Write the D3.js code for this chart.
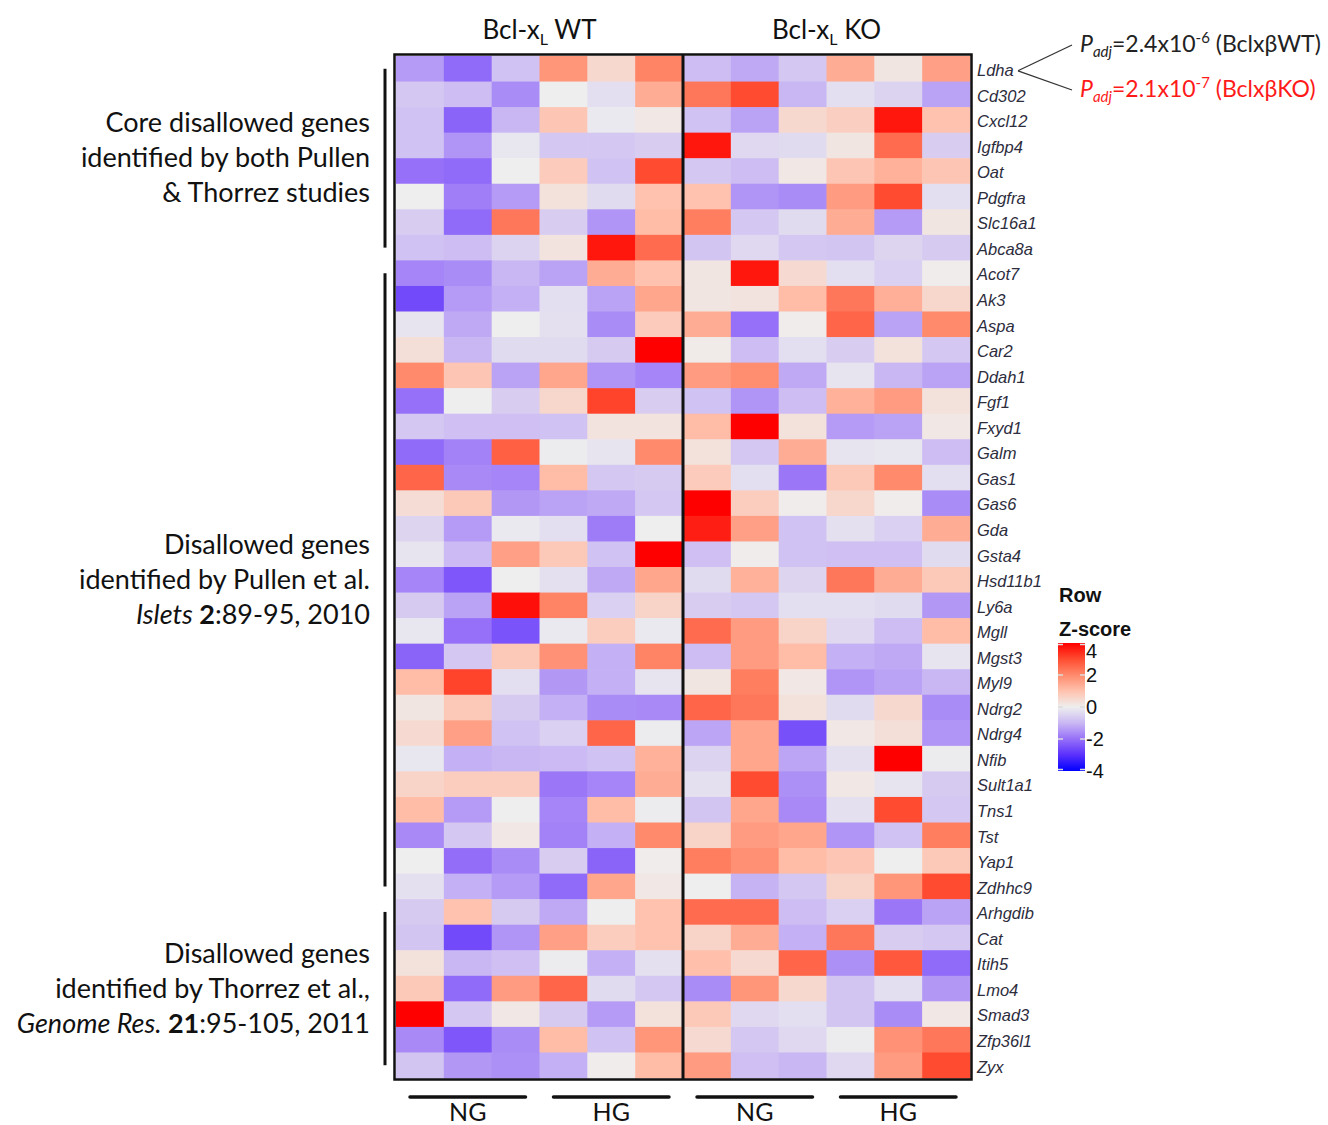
<!DOCTYPE html>
<html>
<head>
<meta charset="utf-8">
<script src="https://cdn.jsdelivr.net/npm/d3@7"></script>
<style>
  body { margin: 0; background: #fff; }
</style>
</head>
<body>
<div id="chart"></div>
<script>
// genes, top to bottom
const genes = ['Ldha', 'Cd302', 'Cxcl12', 'Igfbp4', 'Oat', 'Pdgfra', 'Slc16a1', 'Abca8a',
  'Acot7', 'Ak3', 'Aspa', 'Car2', 'Ddah1', 'Fgf1', 'Fxyd1', 'Galm', 'Gas1', 'Gas6', 'Gda',
  'Gsta4', 'Hsd11b1', 'Ly6a', 'Mgll', 'Mgst3', 'Myl9', 'Ndrg2', 'Ndrg4', 'Nfib', 'Sult1a1',
  'Tns1', 'Tst', 'Yap1', 'Zdhhc9', 'Arhgdib', 'Cat', 'Itih5', 'Lmo4', 'Smad3', 'Zfp36l1', 'Zyx'];

const samples = ['WT_NG1', 'WT_NG2', 'WT_NG3', 'WT_HG1', 'WT_HG2', 'WT_HG3',
  'KO_NG1', 'KO_NG2', 'KO_NG3', 'KO_HG1', 'KO_HG2', 'KO_HG3'];

// row z-scores, Bcl-xL WT columns (NG x3, HG x3)
const zWT = [
  [-1.4, -2.1, -0.8, 1.8, 0.5, 2.1],
  [-0.7, -0.9, -1.6, 0, -0.3, 1.4],
  [-0.8, -2.2, -1.0, 0.9, -0.1, 0.15],
  [-0.8, -1.5, -0.15, -0.7, -0.7, -0.6],
  [-2.0, -2.1, 0, 0.8, -0.8, 3.0],
  [0, -1.8, -1.4, 0.3, -0.35, 1.0],
  [-0.6, -2.1, 2.3, -0.6, -1.5, 1.1],
  [-0.8, -0.9, -0.5, 0.25, 3.7, 2.5],
  [-1.7, -1.6, -1.0, -1.3, 1.4, 1.0],
  [-2.6, -1.4, -1.1, -0.3, -1.3, 1.5],
  [-0.2, -1.2, 0, -0.25, -1.6, 0.8],
  [0.35, -1.0, -0.35, -0.35, -0.65, 4.0],
  [2.0, 0.9, -1.3, 1.5, -1.5, -1.7],
  [-2.0, 0, -0.6, 0.55, 3.1, -0.6],
  [-0.7, -0.85, -0.85, -0.8, 0.25, 0.25],
  [-2.1, -1.75, 2.7, -0.05, -0.2, 2.0],
  [2.6, -1.65, -1.7, 1.1, -0.7, -0.65],
  [0.4, 0.85, -1.45, -1.3, -1.2, -0.7],
  [-0.45, -1.4, -0.1, -0.3, -1.85, 0],
  [-0.2, -0.95, 1.6, 0.85, -0.8, 4.0],
  [-1.7, -2.4, 0, -0.25, -1.2, 1.5],
  [-0.65, -1.3, 3.8, 2.1, -0.55, 0.6],
  [-0.15, -2.0, -2.45, -0.1, 0.75, -0.1],
  [-2.2, -0.7, 0.85, 1.85, -1.1, 2.1],
  [1.1, 3.1, -0.3, -1.45, -1.1, -0.2],
  [0.2, 0.85, -0.65, -1.1, -1.6, -1.65],
  [0.45, 1.6, -0.8, -0.55, 2.6, -0.05],
  [-0.15, -1.1, -1.0, -0.95, -0.8, 1.3],
  [0.6, 0.75, 0.75, -1.9, -1.7, 1.4],
  [1.1, -1.4, 0, -1.7, 1.1, -0.05],
  [-1.65, -0.7, 0.15, -1.75, -1.1, 2.0],
  [0, -2.05, -1.6, -0.6, -2.2, 0.05],
  [-0.25, -1.1, -1.4, -2.1, 1.5, 0.15],
  [-0.65, 1.0, -0.65, -1.2, 0, 1.0],
  [-0.75, -2.6, -1.5, 1.6, 0.75, 1.0],
  [0.3, -1.0, -0.85, -0.05, -1.1, -0.25],
  [0.85, -2.1, 1.7, 2.6, -0.35, -0.7],
  [4.0, -0.7, 0.15, -0.65, -1.4, 0.3],
  [-1.65, -2.4, -1.6, 1.1, -0.8, 1.8],
  [-0.75, -1.45, -1.55, -1.1, 0.05, 1.1]
];

// row z-scores, Bcl-xL KO columns (NG x3, HG x3)
const zKO = [
  [-0.9, -1.2, -0.7, 1.4, 0.2, 1.6],
  [2.3, 3.0, -1.0, -0.3, -0.5, -1.3],
  [-0.8, -1.3, 0.5, 0.7, 3.7, 1.0],
  [3.7, -0.4, -0.35, 0.2, 2.5, -0.6],
  [-0.7, -0.9, 0.15, 0.9, 1.3, 0.9],
  [1.0, -1.5, -1.6, 1.7, 3.0, -0.3],
  [2.2, -0.7, -0.35, 1.4, -1.4, 0.2],
  [-0.75, -0.4, -0.7, -0.75, -0.45, -0.65],
  [0.2, 3.7, 0.45, -0.3, -0.55, 0.05],
  [0.2, 0.25, 1.1, 2.3, 1.35, 0.55],
  [1.4, -2.0, 0.05, 2.6, -1.3, 2.0],
  [0.1, -0.9, -0.3, -0.6, 0.3, -0.7],
  [1.7, 1.95, -1.2, -0.2, -1.0, -1.3],
  [-0.8, -1.5, -0.9, 1.3, 1.7, 0.3],
  [1.1, 4.0, 0.3, -1.4, -1.3, 0.15],
  [0.3, -0.7, 1.4, -0.2, -0.15, -0.9],
  [0.8, -0.3, -1.9, 0.85, 2.0, -0.3],
  [4.0, 0.75, 0.05, 0.55, 0.05, -1.6],
  [3.6, 1.6, -0.8, -0.25, -0.55, 1.4],
  [-0.85, 0.05, -0.8, -0.85, -0.85, -0.35],
  [-0.35, 1.3, -0.45, 2.3, 1.4, 0.85],
  [-0.6, -0.7, -0.3, -0.3, -0.35, -1.45],
  [2.5, 1.7, 0.6, -0.4, -0.9, 1.1],
  [-0.9, 1.7, 1.1, -1.1, -1.2, -0.2],
  [0.2, 2.2, 0.15, -1.5, -1.3, -1.0],
  [2.6, 2.3, 0.3, -0.35, 0.5, -1.6],
  [-1.25, 1.5, -2.5, 0.15, 0.35, -1.5],
  [-0.5, 1.5, -1.25, -0.25, 4.0, -0.05],
  [-0.25, 3.0, -1.55, 0.15, -0.2, -0.65],
  [-0.75, 1.5, -1.65, -0.25, 3.0, -0.7],
  [0.6, 1.7, 1.5, -1.5, -0.8, 2.2],
  [2.2, 1.9, 1.1, 0.9, 0, 0.85],
  [0, -1.05, -0.7, 0.6, 1.8, 3.0],
  [2.5, 2.5, -0.9, -0.55, -1.9, -1.3],
  [0.6, 1.4, -1.1, 2.3, -0.6, -0.7],
  [1.05, 0.45, 2.6, -1.55, 2.8, -2.1],
  [-1.6, 1.8, 0.5, -0.75, -0.3, -1.45],
  [0.85, -0.4, -0.3, -0.75, -1.6, 0.15],
  [0.45, -0.7, -0.4, -0.05, 1.85, 2.3],
  [1.7, -0.85, -1.0, -0.4, 1.7, 3.0]
];

const genotypes = ['WT', 'KO'];
const conditions = ['NG', 'HG', 'NG', 'HG'];
const legendTicks = [4, 2, 0, -2, -4];

// left brackets: first gene, last gene, text lines (segments: [text, style])
const geneGroups = [
  { first: 'Ldha', last: 'Abca8a', lines: [
    [['Core disallowed genes', '']],
    [['identified by both Pullen', '']],
    [['& Thorrez studies', '']] ] },
  { first: 'Acot7', last: 'Zdhhc9', lines: [
    [['Disallowed genes', '']],
    [['identified by Pullen et al.', '']],
    [['Islets ', 'i'], ['2', 'b'], [':89-95, 2010', '']] ] },
  { first: 'Arhgdib', last: 'Zyx', lines: [
    [['Disallowed genes', '']],
    [['identified by Thorrez et al.,', '']],
    [['Genome Res. ', 'i'], ['21', 'b'], [':95-105, 2011', '']] ] }
];

const pvalues = [
  { gene: 'Ldha', mant: '2.4', exp: '-6', label: 'BclxβWT', color: '#222' },
  { gene: 'Ldha', mant: '2.1', exp: '-7', label: 'BclxβKO', color: '#ff1a1a' }
];

const width = 1328, height = 1125;
const labelFont = 'Lato, "Open Sans", sans-serif';

const svg = d3.select('#chart').append('svg')
  .attr('width', width)
  .attr('height', height)
  .style('font-family', labelFont);

const x = d3.scaleBand().domain(samples).range([396, 970]);
const y = d3.scaleBand().domain(genes).range([56, 1078]);
const color = d3.scaleLinear()
  .domain([-4, -3, -2, -1, 0, 1, 2, 3, 4])
  .range(['#0000ff', '#5a30fc', '#9670f8', '#c9b7f3', '#eeeeee', '#ffc2ae', '#ff8a6c', '#ff4c30', '#ff0000'])
  .clamp(true);

const cells = genes.flatMap((g, i) => samples.map((s, j) => ({
  gene: g, sample: s, z: j < 6 ? zWT[i][j] : zKO[i][j - 6]
})));

svg.append('g').selectAll('rect')
  .data(cells)
  .join('rect')
  .attr('x', d => x(d.sample))
  .attr('y', d => y(d.gene))
  .attr('width', x.bandwidth() + 0.6)
  .attr('height', y.bandwidth() + 0.6)
  .attr('fill', d => color(d.z));

// frame and divider
svg.append('rect')
  .attr('x', 394.5).attr('y', 54.5)
  .attr('width', 577).attr('height', 1025)
  .attr('fill', 'none').attr('stroke', '#111').attr('stroke-width', 2.5);
svg.append('line')
  .attr('x1', x(samples[6])).attr('x2', x(samples[6]))
  .attr('y1', 55).attr('y2', 1079)
  .attr('stroke', '#111').attr('stroke-width', 3);

// gene labels
svg.append('g').selectAll('text')
  .data(genes)
  .join('text')
  .attr('x', 977)
  .attr('y', d => y(d) + y.bandwidth() / 2 + 1.5)
  .attr('dy', '0.35em')
  .style('font-family', '"Liberation Sans", Arial, sans-serif')
  .style('font-style', 'italic')
  .style('font-size', '16.5px')
  .attr('fill', '#2d2d3d')
  .text(d => d);

// column group titles
const panelW = x.bandwidth() * 6;
genotypes.forEach((gt, k) => {
  const cx = x(samples[k * 6]) + panelW / 2;
  const t = svg.append('text')
    .attr('x', cx).attr('y', 39)
    .attr('text-anchor', 'middle')
    .style('font-size', '26px')
    .attr('fill', '#111');
  t.append('tspan').text('Bcl-x');
  t.append('tspan').attr('dy', 6).style('font-size', '16px').text('L');
  t.append('tspan').attr('dy', -6).text(' ' + gt);
});

// condition bars and labels
conditions.forEach((c, k) => {
  const x0 = x(samples[k * 3]) + 14;
  const x1 = x(samples[k * 3 + 2]) + x.bandwidth() - 14;
  svg.append('line')
    .attr('x1', x0).attr('x2', x1)
    .attr('y1', 1097).attr('y2', 1097)
    .attr('stroke', '#111').attr('stroke-width', 3.5)
    .attr('stroke-linecap', 'round');
  svg.append('text')
    .attr('x', (x0 + x1) / 2).attr('y', 1121)
    .attr('text-anchor', 'middle')
    .style('font-size', '25px')
    .attr('fill', '#111')
    .text(c);
});

// left brackets and their texts
geneGroups.forEach(g => {
  const y0 = y(g.first) + y.bandwidth() / 2;
  const y1 = y(g.last) + y.bandwidth() / 2;
  svg.append('line')
    .attr('x1', 385).attr('x2', 385)
    .attr('y1', y0).attr('y2', y1)
    .attr('stroke', '#111').attr('stroke-width', 3);
  const mid = (y0 + y1) / 2;
  g.lines.forEach((segs, i) => {
    const t = svg.append('text')
      .attr('x', 370)
      .attr('y', mid + (i - 1) * 35 + 9)
      .attr('text-anchor', 'end')
      .style('font-size', '27px')
      .attr('fill', '#111');
    segs.forEach(([txt, st]) => {
      t.append('tspan')
        .style('font-style', st === 'i' ? 'italic' : 'normal')
        .style('font-weight', st === 'b' ? 'bold' : 'normal')
        .text(txt);
    });
  });
});

// p-value annotation
const lx = 1018, ly = y('Ldha') + y.bandwidth() / 2 + 2;
pvalues.forEach((p, i) => {
  const ty = i === 0 ? 45 : 90;
  svg.append('line')
    .attr('x1', lx).attr('y1', ly)
    .attr('x2', 1072).attr('y2', ty)
    .attr('stroke', '#333').attr('stroke-width', 1.3);
  const t = svg.append('text')
    .attr('x', 1080).attr('y', ty + 7)
    .style('font-size', '23px')
    .attr('fill', p.color);
  t.append('tspan').style('font-style', 'italic').text('P');
  t.append('tspan').attr('dy', 5).style('font-style', 'italic').style('font-size', '15px').text('adj');
  t.append('tspan').attr('dy', -5).text('=' + p.mant + 'x10');
  t.append('tspan').attr('dy', -9).style('font-size', '15px').text(p.exp);
  t.append('tspan').attr('dy', 9).text(' (' + p.label + ')');
});

// legend
const lg = svg.append('g');
lg.append('text').attr('x', 1059).attr('y', 602)
  .style('font-family', '"Liberation Sans", Arial, sans-serif')
  .style('font-weight', 'bold').style('font-size', '20px').attr('fill', '#111')
  .text('Row');
lg.append('text').attr('x', 1059).attr('y', 636)
  .style('font-family', '"Liberation Sans", Arial, sans-serif')
  .style('font-weight', 'bold').style('font-size', '20px').attr('fill', '#111')
  .text('Z-score');

const ly0 = 643, ly1 = 771;
const ls = d3.scaleLinear().domain([4, -4]).range([ly0, ly1]);
const defs = svg.append('defs');
const grad = defs.append('linearGradient').attr('id', 'zgrad')
  .attr('x1', 0).attr('x2', 0).attr('y1', 0).attr('y2', 1);
d3.range(4, -4.01, -0.5).forEach(v => {
  grad.append('stop')
    .attr('offset', ((4 - v) / 8 * 100) + '%')
    .attr('stop-color', color(v));
});
lg.append('rect')
  .attr('x', 1058).attr('y', ly0)
  .attr('width', 27).attr('height', ly1 - ly0)
  .attr('fill', 'url(#zgrad)');
lg.selectAll('.tk')
  .data(legendTicks)
  .join('g')
  .each(function(v) {
    const g = d3.select(this);
    const ty = Math.min(Math.max(ls(v), ly0 + 1.5), ly1 - 1.5);
    g.append('line').attr('x1', 1058).attr('x2', 1063).attr('y1', ty).attr('y2', ty)
      .attr('stroke', '#ddd').attr('stroke-width', 1.5);
    g.append('line').attr('x1', 1080).attr('x2', 1085).attr('y1', ty).attr('y2', ty)
      .attr('stroke', '#ddd').attr('stroke-width', 1.5);
    g.append('text').attr('x', 1086)
      .attr('y', Math.max(ls(v), ly0 + 8))
      .attr('dy', '0.35em')
      .style('font-family', '"Liberation Sans Narrow", "Liberation Sans", Arial, sans-serif')
      .style('font-size', '20px').attr('fill', '#111')
      .text(v);
  });
</script>
</body>
</html>
